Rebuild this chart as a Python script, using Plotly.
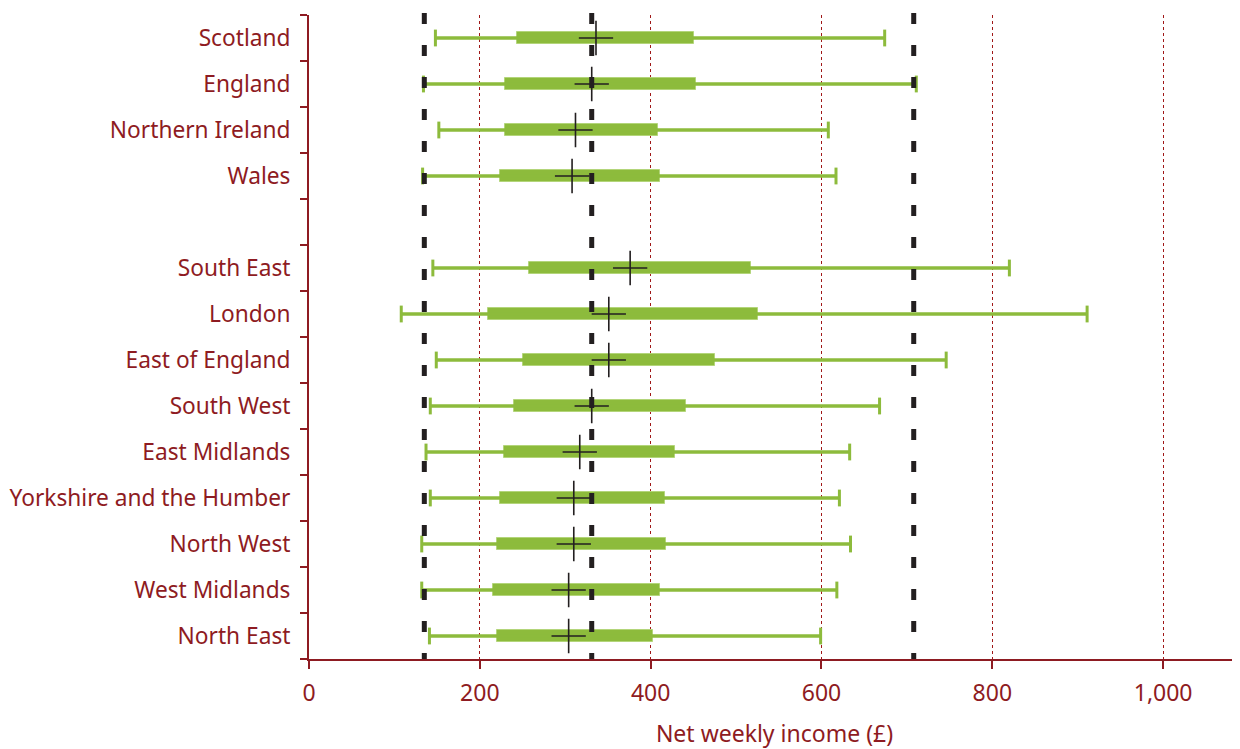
import plotly.graph_objects as go

# Category slots on the y axis (top to bottom); " " is the blank separator row
slots = ["Scotland", "England", "Northern Ireland", "Wales", " ",
         "South East", "London", "East of England", "South West",
         "East Midlands", "Yorkshire and the Humber", "North West",
         "West Midlands", "North East"]

regions = ["Scotland", "England", "Northern Ireland", "Wales",
           "South East", "London", "East of England", "South West",
           "East Midlands", "Yorkshire and the Humber", "North West",
           "West Midlands", "North East"]

# Net weekly income (GBP) distribution per region
p10 = [148, 134, 152, 133, 145, 108, 149, 142, 137, 142, 132, 132, 141]
p25 = [243, 230, 230, 224, 258, 210, 250, 240, 228, 224, 220, 216, 220]
p75 = [451, 453, 409, 411, 517, 526, 475, 441, 428, 417, 418, 411, 403]
p90 = [674, 711, 608, 617, 820, 911, 746, 668, 633, 621, 634, 618, 599]
median = [336, 331, 312, 308, 376, 351, 351, 331, 317, 310, 310, 304, 304]

# UK-wide reference values (dashed lines)
uk_lines = [135, 331, 708]

x_ticks = [0, 200, 400, 600, 800, 1000]

RED = "#8E1B22"
GREEN = "#8DBB3C"
BLACK = "#231F20"

fig = go.Figure()

# whiskers
wx, wy = [], []
for r, lo, hi in zip(regions, p10, p90):
    wx += [lo, hi, None]
    wy += [r, r, None]
fig.add_trace(go.Scatter(x=wx, y=wy, mode="lines",
                         line=dict(color=GREEN, width=3.5),
                         hoverinfo="skip", showlegend=False))

# caps
fig.add_trace(go.Scatter(x=p10 + p90, y=regions + regions, mode="markers",
                         marker=dict(symbol="line-ns", size=12,
                                     line=dict(color=GREEN, width=3)),
                         hoverinfo="skip", showlegend=False))

# boxes (interquartile)
fig.add_trace(go.Bar(y=regions, x=[b - a for a, b in zip(p25, p75)], base=p25,
                     orientation="h", width=0.27,
                     marker=dict(color=GREEN, line=dict(color="#B3D57A", width=1)),
                     showlegend=False))

# median crosses
fig.add_trace(go.Scatter(x=median, y=regions, mode="markers",
                         marker=dict(symbol="cross-thin", size=24.5,
                                     line=dict(color=BLACK, width=1.6)),
                         showlegend=False))

for v in uk_lines:
    fig.add_shape(type="line", xref="x", yref="paper", x0=v, x1=v, y0=1.003, y1=0,
                  line=dict(color=BLACK, width=5, dash="11px,21px"), layer="above")

fig.update_layout(
    width=1232, height=741,
    margin=dict(l=301, r=0, t=7, b=90, autoexpand=False),
    plot_bgcolor="white", paper_bgcolor="white",
    font=dict(family="Noto Sans", size=22, color=RED),
    bargap=0,
)

fig.update_xaxes(
    range=[0, 1090],
    tickvals=x_ticks, tickformat=",d",
    showgrid=True, gridcolor="#A01818", griddash="dot", gridwidth=1,
    showline=True, linecolor=RED, linewidth=2,
    ticks="outside", ticklen=8, tickwidth=1.5, tickcolor=RED,
    zeroline=False, automargin=False,
    ticklabelstandoff=4,
    title=dict(text="Net weekly income (£)", standoff=26, font=dict(size=23, color=RED)),
    tickfont=dict(size=23, color=RED),
)

fig.update_yaxes(
    type="category", categoryorder="array", categoryarray=slots,
    tickvals=slots, ticktext=slots,
    range=[13.5, -0.5],
    tickson="boundaries",
    showgrid=False, automargin=False,
    showline=True, linecolor=RED, linewidth=2,
    ticks="outside", ticklen=7, tickwidth=1.5, tickcolor=RED,
    ticklabelstandoff=12,
    tickfont=dict(size=22.7, color=RED),
)

fig.write_html("out.html")
